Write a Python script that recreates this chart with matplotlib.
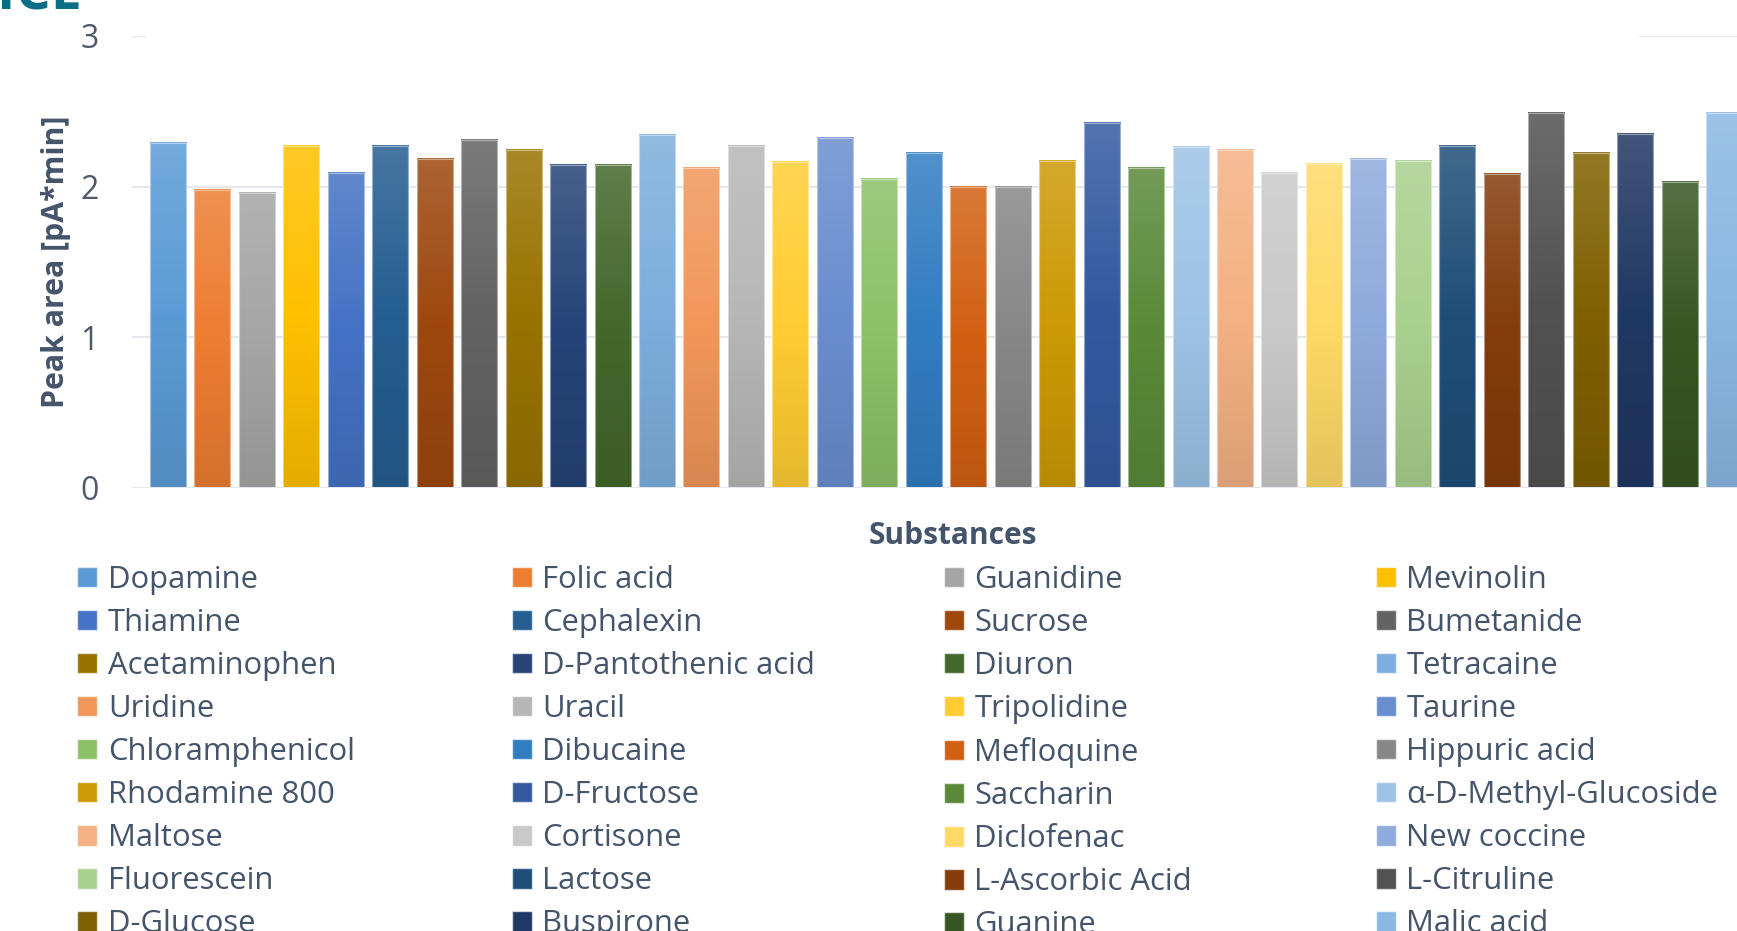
import numpy as np
import matplotlib
matplotlib.use("Agg")
import matplotlib.pyplot as plt
from matplotlib.patches import Patch
from matplotlib.colors import to_rgb, LinearSegmentedColormap

# one bar per substance
substances = [
    "Dopamine", "Folic acid", "Guanidine", "Mevinolin",
    "Thiamine", "Cephalexin", "Sucrose", "Bumetanide",
    "Acetaminophen", "D-Pantothenic acid", "Diuron", "Tetracaine",
    "Uridine", "Uracil", "Tripolidine", "Taurine",
    "Chloramphenicol", "Dibucaine", "Mefloquine", "Hippuric acid",
    "Rhodamine 800", "D-Fructose", "Saccharin", "α-D-Methyl-Glucoside",
    "Maltose", "Cortisone", "Diclofenac", "New coccine",
    "Fluorescein", "Lactose", "L-Ascorbic Acid", "L-Citruline",
    "D-Glucose", "Buspirone", "Guanine", "Malic acid",
]
peak_area = [
    2.29, 1.98, 1.96, 2.27, 2.09, 2.27, 2.18, 2.31, 2.24, 2.14, 2.14, 2.34,
    2.12, 2.27, 2.16, 2.32, 2.05, 2.22, 2.00, 2.00, 2.17, 2.42, 2.12, 2.26,
    2.24, 2.09, 2.15, 2.18, 2.17, 2.27, 2.08, 2.49, 2.22, 2.35, 2.03, 2.49,
]
colors = [
    "#5B9BD5", "#ED7D31", "#A5A5A5", "#FFC000", "#4472C4", "#255E91",
    "#9E480E", "#636363", "#997300", "#264478", "#43682B", "#7CAFDD",
    "#F1975A", "#B7B7B7", "#FFCD33", "#698ED0", "#8CC168", "#327DC2",
    "#D26012", "#878787", "#CC9A06", "#335AA1", "#5A8A39", "#9DC3E6",
    "#F4B183", "#C9C9C9", "#FFD966", "#8FAADC", "#A9D18E", "#1F4E79",
    "#843C0C", "#525252", "#7F6000", "#203864", "#375623", "#8AB8E3",
]
yticks = [0, 1, 2, 3]

TXT = "#44546A"
GRID = "#E3E7EE"
plt.rcParams["font.family"] = ["Open Sans", "DejaVu Sans"]

W, H = 1737, 931
fig = plt.figure(figsize=(W / 100, H / 100), dpi=100)
# plot area runs past the right edge of the picture, as in the reference
ax = fig.add_axes([132 / W, 1 - 487.5 / H, (1760 - 132) / W, (487.5 - 36) / H])

def shade(c, f):
    r = np.array(to_rgb(c))
    return tuple(r + (1 - r) * f) if f > 0 else tuple(r * (1 + f))

x = np.arange(len(substances))
bars = ax.bar(x, peak_area, width=0.81, facecolor="none", edgecolor=(1, 1, 1, 0.45),
              linewidth=0.8, zorder=4)
grad = np.linspace(0, 1, 64).reshape(-1, 1)
for b, c in zip(bars, colors):
    cm = LinearSegmentedColormap.from_list("g", [shade(c, -0.1), c, shade(c, 0.15)])
    bx, bw, bh = b.get_x(), b.get_width(), b.get_height()
    ax.imshow(grad, cmap=cm, origin="lower", extent=[bx, bx + bw, 0, bh],
              aspect="auto", interpolation="bilinear", zorder=3)

ax.set_xlim(-0.81, len(substances) - 1 + 0.81)
ax.set_ylim(yticks[0], yticks[-1])
ax.set_yticks(yticks)
ax.set_yticklabels([str(t) for t in yticks])
ax.tick_params(axis="y", length=0, pad=24, labelsize=23, labelcolor="#505A6B")
ax.set_xticks([])
for s in ax.spines.values():
    s.set_visible(False)
for t in yticks[:-1]:
    ax.axhline(t, color=GRID, lw=1.5, zorder=1)
# top gridline is hidden in the middle (title box overlaps it)
ax.axhline(yticks[-1], xmax=0.008, color=GRID, lw=1.5, zorder=1)
ax.axhline(yticks[-1], xmin=0.926, color=GRID, lw=1.5, zorder=1)

fig.text(56 / W, 1 - 262 / H, "Peak area [pA*min]", rotation=90, ha="center", va="center",
         fontsize=21.8, fontweight="bold", color=TXT)
fig.text(953 / W, 1 - 536 / H, "Substances", ha="center", va="center",
         fontsize=21.5, fontweight="bold", color=TXT)
fig.text(-0.002, 1 - 9 / H, "ICE", fontsize=40, fontweight="bold", color="#0B6E86",
         va="baseline")

# legend: 4 equal-width columns, filled row by row
handles = [Patch(facecolor=c, edgecolor=(1, 1, 1, 0.6)) for c in colors]
ncol = 4
col_x = [77, 511.5, 943.5, 1375.5]
for c in range(ncol):
    idx = list(range(c, len(substances), ncol))
    fig.legend([handles[i] for i in idx], [substances[i] for i in idx],
               loc="upper left", bbox_to_anchor=(col_x[c] / W, 1 - 565 / H),
               frameon=False, fontsize=22.3, handlelength=0.65, handleheight=0.65,
               handletextpad=0.35, labelspacing=0.42, borderpad=0, borderaxespad=0,
               labelcolor=TXT)

fig.savefig("out.png", dpi=100)
